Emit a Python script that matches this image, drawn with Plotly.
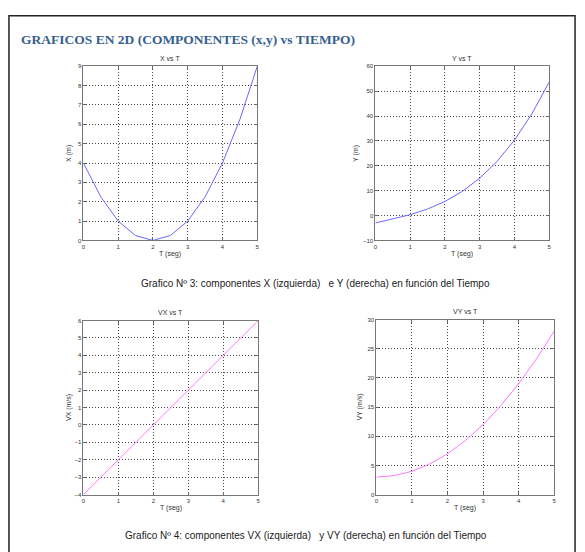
import plotly.graph_objects as go

W, H = 585, 552

# ---- data ----
t = [0, 0.5, 1, 1.5, 2, 2.5, 3, 3.5, 4, 4.5, 5]
x_pos = [4, 2.25, 1, 0.25, 0, 0.25, 1, 2.25, 4, 6.25, 9]
y_pos = [-3, -1.46, 0.33, 2.63, 5.67, 9.71, 15, 21.79, 30.33, 40.88, 53.67]
vx = [-4, -3, -2, -1, 0, 1, 2, 3, 4, 5, 6]
vy = [3, 3.25, 4, 5.25, 7, 9.25, 12, 15.25, 19, 23.25, 28]

x_ticks = [0, 1, 2, 3, 4, 5]
ticks_x_pos = list(range(0, 10))
ticks_y_pos = list(range(-10, 61, 10))
ticks_vx = list(range(-4, 7))
ticks_vy = list(range(0, 31, 5))

main_title = "GRAFICOS EN 2D (COMPONENTES (x,y) vs TIEMPO)"
caption1 = "Grafico Nº 3: componentes X (izquierda)   e Y (derecha) en función del Tiempo"
caption2 = "Grafico Nº 4: componentes VX (izquierda)   y VY (derecha) en función del Tiempo"


def px(x):
    return x / W


def py(y):
    return 1 - y / H


# pixel boxes of each panel: (left, right, top, bottom)
boxes = [(82, 257, 64, 240), (376, 551, 64, 240), (82, 258, 321, 497), (377, 556, 320, 497)]

panels = [
    dict(y=x_pos, ticks=ticks_x_pos, rng=[0, 9], color="rgb(105,105,255)",
         title="X vs T", ylab="X (m)", ylab_x=68),
    dict(y=y_pos, ticks=ticks_y_pos, rng=[-10, 60], color="rgb(105,105,255)",
         title="Y vs T", ylab="Y (m)", ylab_x=357),
    dict(y=vx, ticks=ticks_vx, rng=[-4, 6], color="rgb(255,120,255)",
         title="VX vs T", ylab="VX (m/s)", ylab_x=67),
    dict(y=vy, ticks=ticks_vy, rng=[0, 30], color="rgb(255,120,255)",
         title="VY vs T", ylab="VY (m/s)", ylab_x=361),
]

fig = go.Figure()
annotations = []
tick_font = dict(family="Liberation Sans", size=6, color="#333")

for i, (p, b) in enumerate(zip(panels, boxes)):
    n = "" if i == 0 else str(i + 1)
    fig.add_trace(go.Scatter(x=t, y=p["y"], mode="lines",
                             line=dict(color=p["color"], width=1),
                             xaxis="x" + n, yaxis="y" + n, showlegend=False))
    l, r, tp, bt = b
    common = dict(showline=True, linecolor="#777", linewidth=1, mirror="ticks",
                  ticks="inside", ticklen=3, tickcolor="#666",
                  showgrid=True, gridcolor="#444", griddash="1px,2px", gridwidth=1,
                  zeroline=False, tickfont=tick_font)
    fig.layout["xaxis" + n] = dict(domain=[px(l), px(r)], range=[0, 5],
                                   tickvals=x_ticks, anchor="y" + n, **common)
    fig.layout["yaxis" + n] = dict(domain=[py(bt), py(tp)], range=p["rng"],
                                   tickvals=p["ticks"], anchor="x" + n, **common)
    cx = (l + r) / 2
    annotations.append(dict(text=p["title"], x=px(cx), y=py(tp - 8), xref="paper", yref="paper",
                            showarrow=False, font=dict(family="Liberation Sans", size=7, color="#333"),
                            xanchor="center", yanchor="middle"))
    annotations.append(dict(text="T (seg)", x=px(cx), y=py(bt + 14), xref="paper", yref="paper",
                            showarrow=False, font=dict(family="Liberation Sans", size=7, color="#333"),
                            xanchor="center", yanchor="middle"))
    annotations.append(dict(text=p["ylab"], x=px(p["ylab_x"]), y=py((tp + bt) / 2), xref="paper",
                            yref="paper", showarrow=False, textangle=-90,
                            font=dict(family="Liberation Sans", size=7, color="#333"),
                            xanchor="center", yanchor="middle"))

annotations.append(dict(text="<b>" + main_title + "</b>", x=px(17), y=py(37), xref="paper", yref="paper",
                        showarrow=False, xanchor="left", yanchor="middle",
                        font=dict(family="Liberation Serif", size=13.5, color="#365F91")))
annotations.append(dict(text=caption1, x=px(316), y=py(284), xref="paper", yref="paper",
                        showarrow=False, xanchor="center", yanchor="middle",
                        font=dict(family="Liberation Sans", size=10, color="#222")))
annotations.append(dict(text=caption2, x=px(306), y=py(538), xref="paper", yref="paper",
                        showarrow=False, xanchor="center", yanchor="middle",
                        font=dict(family="Liberation Sans", size=10, color="#222")))

shapes = [dict(type="rect", xref="paper", yref="paper", x0=px(7), x1=px(577), y0=-0.05, y1=py(13),
               line=dict(color="#222", width=1.5), fillcolor="rgba(0,0,0,0)", layer="below")]

fig.update_layout(width=W, height=H, margin=dict(l=0, r=0, t=0, b=0),
                  paper_bgcolor="white", plot_bgcolor="white",
                  annotations=annotations, shapes=shapes)

fig.write_html("out.html", config={"displayModeBar": False},
               post_script="document.body.style.margin='0';document.body.style.overflow='hidden';")
